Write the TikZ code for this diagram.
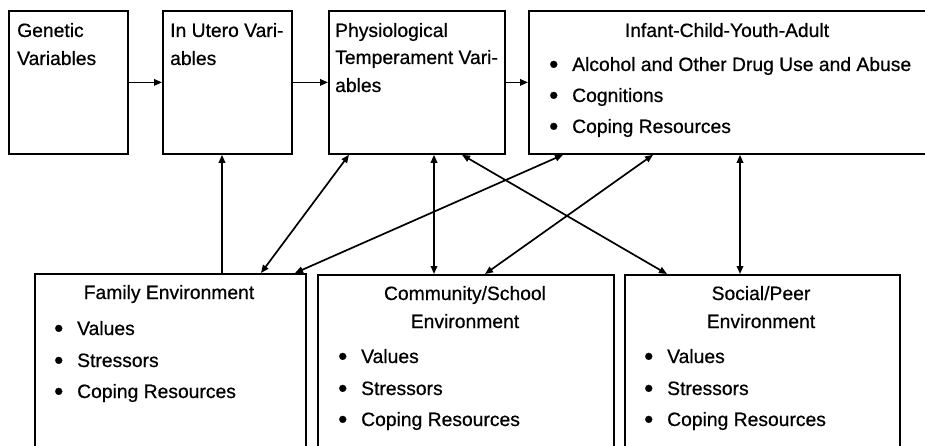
\documentclass[tikz,border=0pt]{standalone}
\usepackage{fontspec}
\setmainfont{Liberation Sans}[FakeBold=0.6]
\usetikzlibrary{arrows.meta}
\tikzset{
  box/.style={draw, line width=1.8pt, inner sep=0pt, anchor=north west},
  lbl/.style={inner sep=0pt, font=\fontsize{19.3}{19.3}\selectfont, anchor=base west},
  ttl/.style={inner sep=0pt, font=\fontsize{19.3}{19.3}\selectfont, anchor=base},
  conn/.style={line width=1.7pt, -{Triangle[length=8pt,width=6.5pt]}},
  dconn/.style={line width=1.7pt, {Triangle[length=8pt,width=6.5pt]}-{Triangle[length=8pt,width=6.5pt]}},
}
\newcommand{\bitem}[4]{\node[lbl] (#4) at (#1,#2) {\makebox[23pt][l]{\raisebox{-2pt}{\fontsize{26}{26}\selectfont•}}#3};}
\begin{document}
\begin{tikzpicture}[x=1pt,y=-1pt]
\clip (0,0) rectangle (925,446);
\fill[white] (0,0) rectangle (925,446);
% top boxes
\node[box, minimum width=119pt, minimum height=143pt] (gen) at (8,10) {};
\node[box, minimum width=129pt, minimum height=143pt] (ute) at (162,10) {};
\node[box, minimum width=176pt, minimum height=143pt] (phy) at (328,10) {};
\node[box, minimum width=400pt, minimum height=143pt] (inf) at (528,10) {};
% bottom boxes
\node[box, minimum width=271pt, minimum height=200pt] (fam) at (34,273) {};
\node[box, minimum width=296pt, minimum height=200pt] (com) at (317,274) {};
\node[box, minimum width=275pt, minimum height=200pt] (soc) at (624,274) {};
% texts top
\node[lbl] (g1) at (17,37) {Genetic};
\node[lbl] (g2) at (17,65) {Variables};
\node[lbl] (u1) at (170,37) {In Utero Vari-};
\node[lbl] (u2) at (170,65) {ables};
\node[lbl] (p1) at (335,37) {Physiological};
\node[lbl] (p2) at (335,64) {Temperament Vari-};
\node[lbl] (p3) at (335,92) {ables};
\node[ttl] (it) at (727,37) {Infant-Child-Youth-Adult};
\bitem{549}{71}{Alcohol and Other Drug Use and Abuse}{i1}
\bitem{549}{102}{Cognitions}{i2}
\bitem{549}{133}{Coping Resources}{i3}
% texts bottom
\node[ttl] (ft) at (169,299) {Family Environment};
\bitem{54}{335}{Values}{f1}
\bitem{54}{367}{Stressors}{f2}
\bitem{54}{398}{Coping Resources}{f3}
\node[ttl] (ct1) at (465,300) {Community/School};
\node[ttl] (ct2) at (465,328) {Environment};
\bitem{338}{363}{Values}{c1}
\bitem{338}{395}{Stressors}{c2}
\bitem{338}{426}{Coping Resources}{c3}
\node[ttl] (st1) at (761,300) {Social/Peer};
\node[ttl] (st2) at (761,328) {Environment};
\bitem{644}{363}{Values}{s1}
\bitem{644}{395}{Stressors}{s2}
\bitem{644}{426}{Coping Resources}{s3}
% connectors
\draw[conn] (gen.east) -- (ute.west);
\draw[conn] (ute.east) -- (phy.west);
\draw[conn] (phy.east) -- (inf.west);
\draw[conn] ([xshift=188pt]fam.north west) -- ([xshift=60pt]ute.south west);
\draw[dconn] ([xshift=21pt]phy.south west) -- ([xshift=227pt]fam.north west);
\draw[dconn] ([xshift=35pt]inf.south west) -- ([xshift=261pt]fam.north west);
\draw[dconn] ([xshift=106pt]phy.south west) -- ([xshift=117pt]com.north west);
\draw[dconn] ([xshift=125pt]inf.south west) -- ([xshift=168pt]com.north west);
\draw[dconn] ([xshift=134pt]phy.south west) -- ([xshift=43pt]soc.north west);
\draw[dconn] ([xshift=212pt]inf.south west) -- ([xshift=116pt]soc.north west);
\end{tikzpicture}
\end{document}
